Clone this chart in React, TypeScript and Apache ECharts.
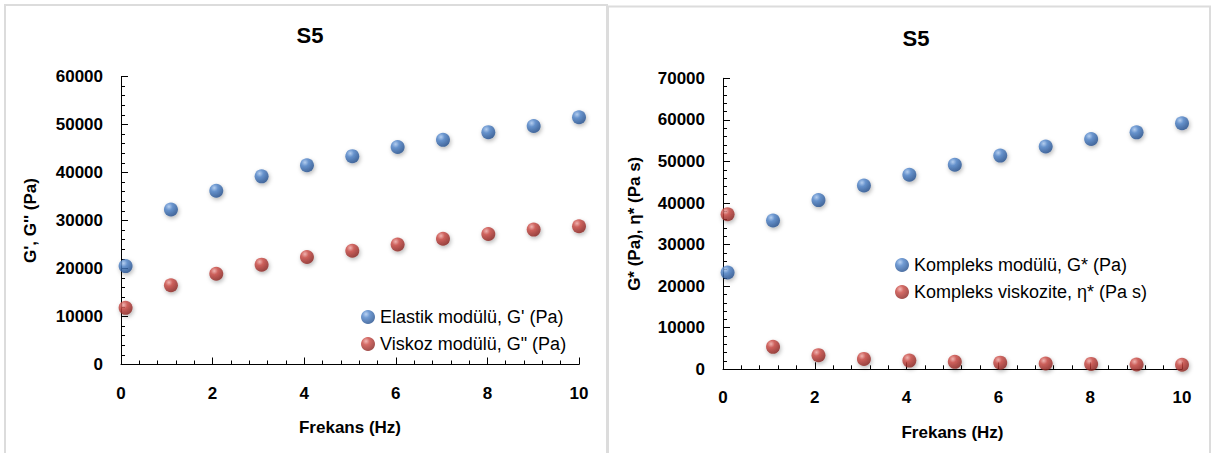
import React, { useEffect, useRef } from "react";
import * as echarts from "echarts";

const freqHz = [0.1, 1.09, 2.08, 3.07, 4.06, 5.05, 6.04, 7.03, 8.02, 9.01, 10];
const elastikG1 = [20500, 32300, 36200, 39200, 41500, 43400, 45300, 46800, 48400, 49700, 51500];
const viskozG2 = [11800, 16500, 18900, 20800, 22400, 23700, 25000, 26200, 27200, 28100, 28800];
const kompleksGStar = [23300, 35800, 40700, 44200, 46800, 49200, 51400, 53600, 55400, 57000, 59200];
const kompleksEta = [37300, 5400, 3400, 2500, 2100, 1800, 1600, 1400, 1300, 1150, 1100];

const nameG1 = "Elastik modülü, G' (Pa)";
const nameG2 = 'Viskoz modülü, G" (Pa)';
const nameGStar = "Kompleks modülü, G* (Pa)";
const nameEta = "Kompleks viskozite, η* (Pa s)";

const FONT = "'Liberation Sans', Arial, sans-serif";

const blueBall = {
  type: "radial",
  x: 0.36,
  y: 0.3,
  r: 0.75,
  colorStops: [
    { offset: 0, color: "#a9c8f0" },
    { offset: 0.35, color: "#4d82c8" },
    { offset: 1, color: "#1f4a88" },
  ],
};
const redBall = {
  type: "radial",
  x: 0.36,
  y: 0.3,
  r: 0.75,
  colorStops: [
    { offset: 0, color: "#f0a8a4" },
    { offset: 0.35, color: "#c94640" },
    { offset: 1, color: "#84201d" },
  ],
};

function pts(vals: number[]) {
  return freqHz.map((f, i) => [f, vals[i]]);
}

const plain = (v: number) => String(v);

function xAxis(gridIndex: number, nameGap: number) {
  return {
    type: "value",
    gridIndex,
    min: 0,
    max: 10,
    interval: 2,
    name: "Frekans (Hz)",
    nameLocation: "middle",
    nameGap,
    nameTextStyle: { fontFamily: FONT, fontWeight: "bold", fontSize: 17, color: "#000" },
    axisLine: { show: true, onZero: false, lineStyle: { color: "#000", width: 1 } },
    axisTick: { show: true, inside: true, length: 7, lineStyle: { color: "#000" } },
    minorTick: { show: true, splitNumber: 5, length: 4, lineStyle: { color: "#000" } },
    axisLabel: { margin: 20, formatter: plain, fontFamily: FONT, fontWeight: "bold", fontSize: 17, color: "#000" },
    splitLine: { show: false },
  };
}

function yAxis(gridIndex: number, max: number, name: string, nameGap: number) {
  return {
    type: "value",
    gridIndex,
    min: 0,
    max,
    interval: 10000,
    name,
    nameLocation: "middle",
    nameGap,
    nameTextStyle: { fontFamily: FONT, fontWeight: "bold", fontSize: 17, color: "#000" },
    axisLine: { show: true, onZero: false, lineStyle: { color: "#000", width: 1 } },
    axisTick: { show: true, inside: true, length: 7, lineStyle: { color: "#000" } },
    minorTick: { show: true, splitNumber: 5, length: 4, lineStyle: { color: "#000" } },
    axisLabel: { margin: 18, formatter: plain, fontFamily: FONT, fontWeight: "bold", fontSize: 17, color: "#000" },
    splitLine: { show: false },
  };
}

function scatter(name: string, vals: number[], idx: number, color: any) {
  return {
    type: "scatter",
    name,
    xAxisIndex: idx,
    yAxisIndex: idx,
    data: pts(vals),
    symbol: "circle",
    symbolSize: 14,
    itemStyle: {
      color,
      shadowColor: "rgba(0,0,0,0.35)",
      shadowBlur: 4,
      shadowOffsetX: 1,
      shadowOffsetY: 2,
    },
    z: 3,
  };
}

function legend(names: string[], left: number, top: number) {
  return {
    data: names,
    orient: "vertical",
    left,
    top,
    itemWidth: 14,
    itemHeight: 14,
    itemGap: 9,
    icon: "circle",
    selectedMode: false,
    textStyle: { fontFamily: FONT, fontSize: 18, color: "#000" },
  };
}

export default function App() {
  const ref = useRef<HTMLDivElement>(null);
  useEffect(() => {
    const chart = echarts.init(ref.current!, null, { renderer: "svg" });
    const option: any = {
      animation: false,
      backgroundColor: "#fff",
      title: [
        {
          text: "S5",
          left: 305,
          top: 19,
          textAlign: "center",
          textStyle: { fontFamily: FONT, fontWeight: "bold", fontSize: 22, color: "#000" },
        },
        {
          text: "S5",
          left: 911,
          top: 22,
          textAlign: "center",
          textStyle: { fontFamily: FONT, fontWeight: "bold", fontSize: 22, color: "#000" },
        },
      ],
      legend: [legend([nameG1, nameG2], 356, 303), legend([nameGStar, nameEta], 890, 251)],
      grid: [
        { left: 121, top: 76.5, right: 633, bottom: 88.5, containLabel: false },
        { left: 723, top: 78.3, right: 30, bottom: 83.7, containLabel: false },
      ],
      xAxis: [xAxis(0, 54), xAxis(1, 55)],
      yAxis: [yAxis(0, 60000, "G', G'' (Pa)", 82), yAxis(1, 70000, "G* (Pa), η* (Pa s)", 80)],
      series: [
        scatter(nameG1, elastikG1, 0, blueBall),
        scatter(nameG2, viskozG2, 0, redBall),
        scatter(nameGStar, kompleksGStar, 1, blueBall),
        scatter(nameEta, kompleksEta, 1, redBall),
      ],
      graphic: [
        {
          type: "rect",
          shape: { x: 5, y: 5, width: 602, height: 470 },
          style: { fill: "none", stroke: "#dcdcdc", lineWidth: 2 },
          silent: true,
        },
        {
          type: "rect",
          shape: { x: 608, y: 6.5, width: 602, height: 470 },
          style: { fill: "none", stroke: "#dcdcdc", lineWidth: 2 },
          silent: true,
        },
      ],
    };
    chart.setOption(option);
    return () => chart.dispose();
  }, []);
  return (
    <div
      ref={ref}
      style={{ position: "absolute", left: 0, top: 0, width: 1212, height: 453, background: "#fff" }}
    />
  );
}
